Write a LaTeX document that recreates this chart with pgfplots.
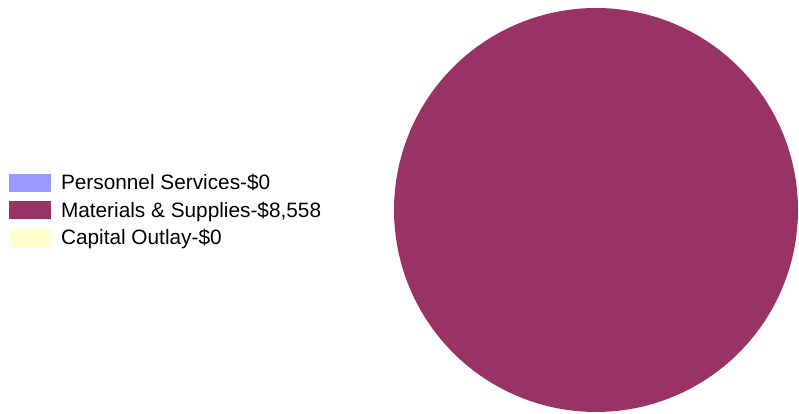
\documentclass[border=0pt]{standalone}
\usepackage{pgfplots}
\pgfplotsset{compat=1.18}
\usepackage{fontspec}
\setmainfont{Liberation Sans}
\definecolor{cA}{HTML}{9999FF}
\definecolor{cB}{HTML}{993366}
\definecolor{cC}{HTML}{FFFFCC}
% values: Personnel Services 0, Materials & Supplies 8558, Capital Outlay 0
\def\vA{0}
\def\vB{8558}
\def\vC{0}
\newcommand{\lstrut}{\rule[-5pt]{0pt}{22pt}}
\begin{document}
\begin{tikzpicture}
\begin{axis}[
  scale only axis,
  width=799pt, height=414pt,
  xmin=0, xmax=799, ymin=0, ymax=414,
  axis line style={draw=none},
  ticks=none,
  clip=false,
  legend image code/.code={\fill[#1] (0pt,-2pt) rectangle (42pt,16pt);},
  legend style={draw=none, fill=none, inner sep=0pt, outer sep=0pt,
    at={(axis cs:9,241)}, anchor=north west,
    row sep=8.5pt, column sep=10pt,
    font=\fontsize{20.8}{23}\selectfont,
    nodes={inner sep=0pt},
    cells={anchor=base west}},
]
\addlegendimage{fill=cA, draw=none}
\addlegendentry{\lstrut Personnel Services-\$0}
% pie: full slice for Materials & Supplies (angles from values)
\addplot[fill=cB, draw=none, domain={360*\vA/(\vA+\vB+\vC)}:{360*(\vA+\vB)/(\vA+\vB+\vC)}, samples=241, variable=\t]
  ({596+202*cos(\t)},{204+202*sin(\t)});
\addlegendentry{\lstrut Materials \& Supplies-\$8,558}
\addlegendimage{fill=cC, draw=none}
\addlegendentry{\lstrut Capital Outlay-\$0}
\end{axis}
\end{tikzpicture}
\end{document}
